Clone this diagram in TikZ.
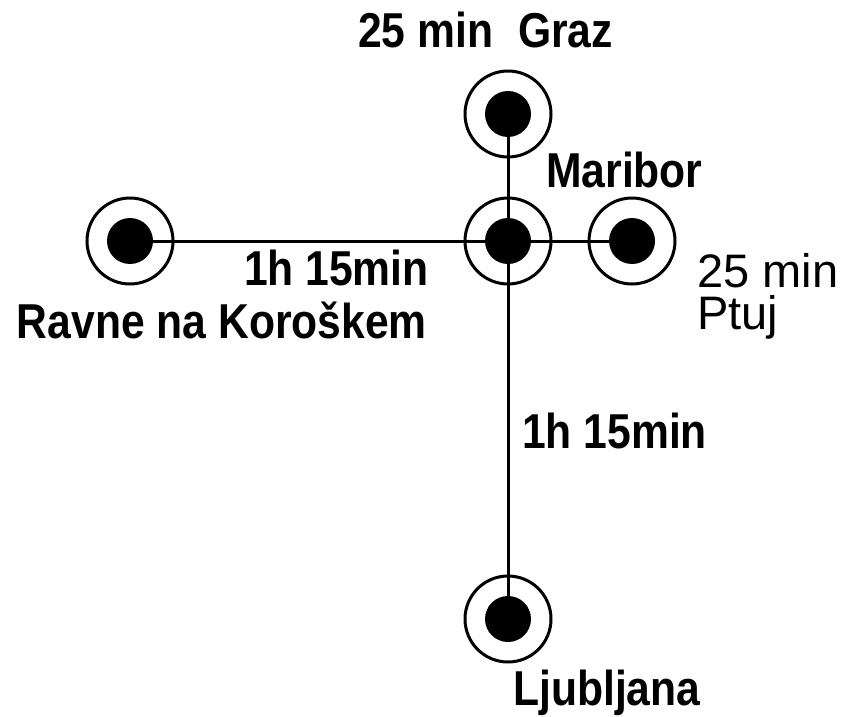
\documentclass[tikz,border=0pt]{standalone}
\usepackage{fontspec}
\setmainfont{Liberation Sans}
\newfontfamily\dinfont[FakeStretch=0.87]{Liberation Sans Bold}
\newfontfamily\arialfont{Liberation Sans}
\begin{document}
\begin{tikzpicture}[x=1bp,y=-1bp,
  station/.style={circle,draw,line width=3bp,minimum size=86bp,inner sep=0pt,
    path picture={\fill (path picture bounding box.center) circle (23bp);}},
  route/.style={line width=3bp},
  lbl/.style={inner sep=0pt,font=\dinfont\fontsize{49bp}{50bp}\selectfont},
  albl/.style={inner sep=0pt,align=left,font=\arialfont\fontsize{47bp}{42bp}\selectfont}]
\useasboundingbox (0,0) rectangle (842,717);
\node[station] (graz) at (508,114) {};
\node[station] (maribor) at (508,241) {};
\node[station] (ptuj) at (632,241) {};
\node[station] (ravne) at (130,241) {};
\node[station] (lj) at (508,619) {};
\draw[route] (graz.center) -- (lj.center);
\draw[route] (ravne.center) -- (ptuj.center);
\node[lbl,anchor=base west] (tgraz) at (358,48) {25 min};
\node[lbl,anchor=base west] (ngraz) at (518,48) {Graz};
\node[lbl,anchor=base west] (nmar) at (546,187) {Maribor};
\node[lbl,anchor=base east] (travne) at (429,285) {1h 15min};
\node[lbl,anchor=base east] (nravne) at (427,338) {Ravne na Koroškem};
\node[albl,anchor=base west] (tptuj) at (697,329) {25 min\\Ptuj};
\node[lbl,anchor=base west] (tlj) at (522,448) {1h 15min};
\node[lbl,anchor=base west] (nlj) at (513,705) {Ljubljana};
\end{tikzpicture}
\end{document}
